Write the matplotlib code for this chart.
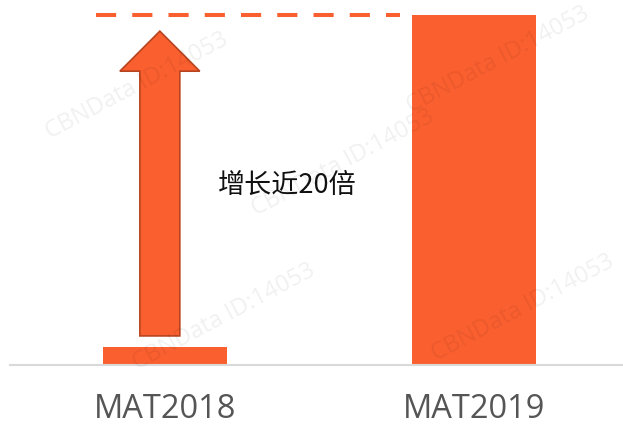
import matplotlib.pyplot as plt
from matplotlib.patches import FancyArrow

plt.rcParams['font.family'] = ['Noto Sans CJK SC', 'DejaVu Sans']

# data
categories = ["MAT2018", "MAT2019"]
values = [1.0, 19.5]
growth_label = "增长近20倍"
watermark = "CBNData ID:14053"

bar_color = "#FA5F2F"
edge_dark = "#B8441F"

fig = plt.figure(figsize=(6.23, 4.28), dpi=100)
ax = fig.add_axes([10 / 623, 63 / 428, 613 / 623, 360 / 428])

x = list(range(len(categories)))
ax.bar(x, values, width=0.4, color=bar_color, zorder=2)

ax.set_xlim(-0.5, 1.48)
ax.set_ylim(0, values[1] * 360 / 350)

# dashed reference line at the MAT2019 level
ax.plot([-0.223, 0.759], [values[1], values[1]], color=bar_color, lw=2.9,
        dashes=(5, 4), solid_capstyle='butt', dash_capstyle='butt', zorder=2)

# growth arrow
y0 = 1.62
y1 = 18.6
arrow = FancyArrow(-0.016, y0, 0, y1 - y0, width=0.129, head_width=0.258,
                   head_length=2.23, length_includes_head=True,
                   facecolor=bar_color, edgecolor=edge_dark, lw=1.2, zorder=3)
ax.add_patch(arrow)

ax.text(0.394, 10.0, growth_label, fontsize=19.5, color="#111111",
        ha='center', va='center', zorder=4)

# axes styling
for s in ['top', 'right', 'left']:
    ax.spines[s].set_visible(False)
ax.spines['bottom'].set_color('#d9d9d9')
ax.spines['bottom'].set_linewidth(1.5)
ax.set_yticks([])
ax.set_xticks(x)
ax.set_xticklabels(categories, fontsize=23.5, color='#555555',
                   family=['Open Sans', 'DejaVu Sans'])
ax.tick_params(axis='x', length=0, pad=20)

# faint watermarks, kept inside the canvas
for wx, wy in [(0.22, 0.80), (0.55, 0.62), (0.80, 0.86), (0.36, 0.26), (0.84, 0.28)]:
    fig.text(wx, wy, watermark, fontsize=17, color='#000000', alpha=0.06,
             rotation=28, ha='center', va='center',
             family=['Open Sans', 'DejaVu Sans'], zorder=0)

fig.savefig("out.png", dpi=100)
